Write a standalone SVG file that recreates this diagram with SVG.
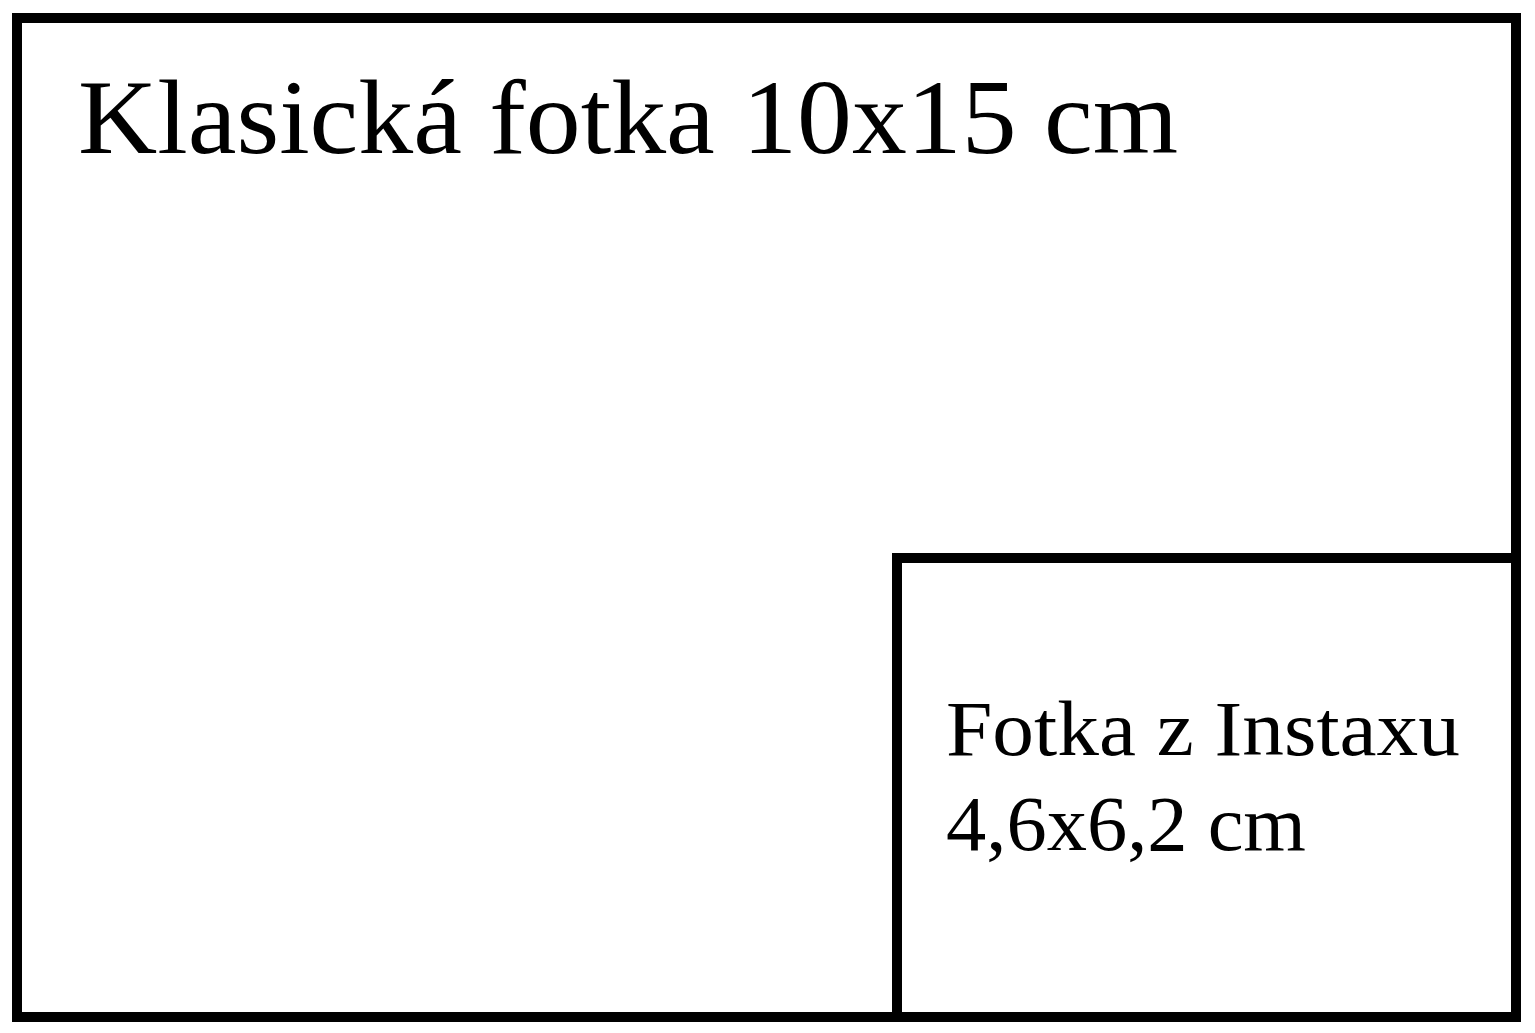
<svg xmlns="http://www.w3.org/2000/svg" width="1535" height="1033" viewBox="0 0 1535 1033">
<style>
.box{fill:none;stroke:#000;stroke-width:10}
.t{font-family:"Liberation Serif","DejaVu Serif",serif;fill:#000}
</style>
<rect width="1535" height="1033" fill="#fff"/>
<g id="classic">
<rect class="box" x="17" y="18" width="1499" height="999"/>
<text class="t" x="78" y="153" font-size="106" textLength="1100" lengthAdjust="spacingAndGlyphs">Klasická fotka 10x15 cm</text>
</g>
<g id="instax">
<rect class="box" x="897" y="558" width="619" height="459"/>
<text class="t" x="946" y="755" font-size="78" textLength="514" lengthAdjust="spacingAndGlyphs">Fotka z Instaxu</text>
<text class="t" x="946" y="850" font-size="78" textLength="360" lengthAdjust="spacingAndGlyphs">4,6x6,2 cm</text>
</g>
<g id="connectors"/>
</svg>
